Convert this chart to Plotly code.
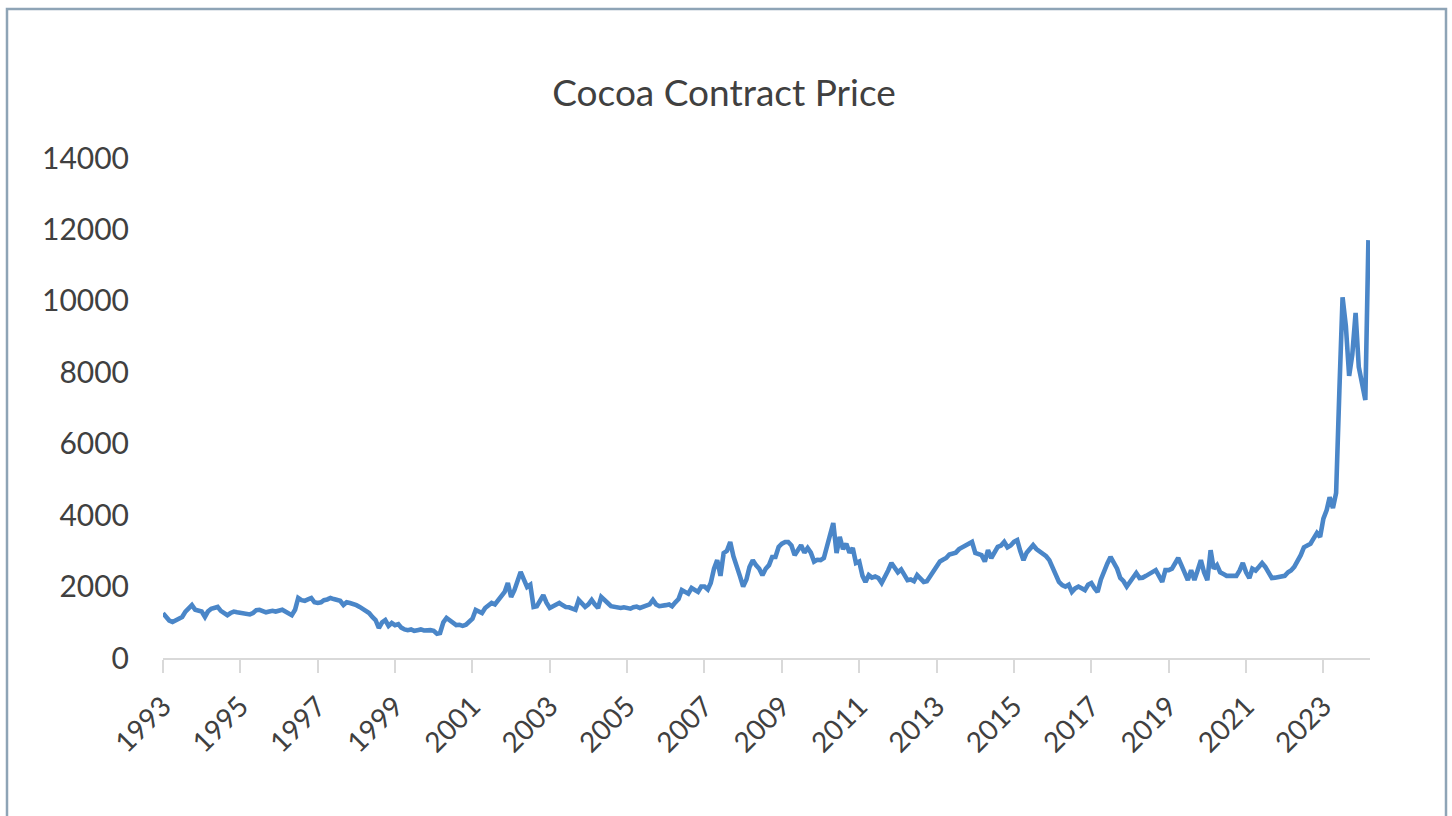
import pandas as pd
import plotly.graph_objects as go

# Monthly cocoa contract prices (USD/t), Jan 1993 onward
prices_1990s = [
    1250, 1150, 1050, 1010, 1060, 1120, 1150, 1300, 1400, 1480, 1350, 1330,  # 1993
    1300, 1150, 1300, 1380, 1400, 1430, 1320, 1250, 1200, 1260, 1300, 1280,  # 1994
    1260, 1270, 1230, 1220, 1260, 1340, 1350, 1320, 1280, 1300, 1320, 1300,  # 1995
    1330, 1350, 1300, 1250, 1200, 1350, 1680, 1620, 1600, 1640, 1680, 1560,  # 1996
    1540, 1560, 1620, 1640, 1680, 1650, 1640, 1600, 1484, 1560, 1540, 1520,  # 1997
    1480, 1430, 1380, 1290, 1260, 1150, 1064, 840, 1000, 1064, 900, 980,     # 1998
    920, 950, 850, 800, 780, 800, 760, 780, 800, 770, 790, 780,              # 1999
]
prices_2000s = [
    760, 680, 700, 1000, 1120, 1050, 980, 920, 930, 900, 930, 1000,          # 2000
    1100, 1344, 1300, 1260, 1400, 1480, 1540, 1500, 1624, 1700, 1850, 2100,  # 2001
    1710, 1900, 2150, 2410, 2200, 1990, 2050, 1430, 1450, 1600, 1760, 1550,  # 2002
    1400, 1450, 1480, 1540, 1480, 1430, 1420, 1400, 1350, 1624, 1500, 1430,  # 2003
    1500, 1624, 1500, 1400, 1710, 1600, 1540, 1450, 1430, 1420, 1400, 1420,  # 2004
    1400, 1380, 1420, 1440, 1400, 1430, 1460, 1500, 1624, 1500, 1450, 1480,  # 2005
    1480, 1500, 1450, 1560, 1650, 1904, 1850, 1800, 1960, 1900, 1850, 2000,  # 2006
    2000, 1920, 2100, 2500, 2740, 2300, 2940, 3000, 3250, 2850, 2600, 2300,  # 2007
    2000, 2200, 2550, 2740, 2600, 2500, 2320, 2500, 2600, 2830, 2830, 3110,  # 2008
    3200, 3250, 3250, 3150, 2880, 3000, 3160, 2950, 3080, 2950, 2700, 2750,  # 2009
]
prices_2010s = [
    2740, 2800, 3080, 3390, 3780, 2940, 3390, 3050, 3200, 2950, 3080, 2660,  # 2010
    2700, 2300, 2130, 2320, 2250, 2280, 2240, 2100, 2250, 2450, 2660, 2500,  # 2011
    2400, 2480, 2300, 2180, 2200, 2150, 2320, 2200, 2130, 2150, 2300, 2460,  # 2012
    2600, 2700, 2750, 2800, 2900, 2940, 2950, 3050, 3110, 3150, 3220, 3250,  # 2013
    2940, 2900, 2880, 2700, 3020, 2800, 2950, 3110, 3150, 3250, 3100, 3150,  # 2014
    3250, 3300, 3000, 2740, 2950, 3050, 3160, 3050, 2980, 2950, 2850, 2740,  # 2015
    2550, 2300, 2130, 2040, 2000, 2050, 1850, 1950, 2000, 1950, 1900, 2050,  # 2016
    2100, 1950, 1850, 2200, 2450, 2650, 2830, 2650, 2500, 2240, 2150, 2000,  # 2017
    2150, 2240, 2380, 2240, 2250, 2300, 2350, 2400, 2460, 2300, 2130, 2460,  # 2018
    2460, 2500, 2650, 2800, 2600, 2400, 2180, 2460, 2180, 2450, 2740, 2400,  # 2019
]
prices_2020s = [
    2180, 3020, 2500, 2600, 2400, 2350, 2300, 2300, 2300, 2300, 2450, 2660,  # 2020
    2400, 2240, 2500, 2450, 2550, 2660, 2550, 2400, 2240, 2250, 2270, 2300,  # 2021
    2300, 2400, 2450, 2550, 2700, 2880, 3100, 3160, 3200, 3350, 3500, 3390,  # 2022
    3900, 4140, 4500, 4200, 4620, 7500, 10100, 9300, 7900, 8500, 9660, 8150,  # 2023
    7600, 7224, 11700,                                                       # 2024
]
prices = prices_1990s + prices_2000s + prices_2010s + prices_2020s
dates = pd.date_range("1993-01-01", periods=len(prices), freq="MS")

tick_years = ["1993", "1995", "1997", "1999", "2001", "2003", "2005", "2007",
              "2009", "2011", "2013", "2015", "2017", "2019", "2021", "2023"]
y_ticks = [0, 2000, 4000, 6000, 8000, 10000, 12000, 14000]
y_labels = ["0", "2000", "4000", "6000", "8000", "10000", "12000", "14000"]

W, H = 1452, 816
ml, mr, mt, mb = 163, 82, 158, 158
pw, ph = W - ml - mr, H - mt - mb

def px_x(px):
    return (px - ml) / pw

def px_y(py):
    return (H - mb - py) / ph

FONT = "Lato"
TXT = "#404040"

fig = go.Figure(go.Scatter(
    x=dates, y=prices, mode="lines",
    line=dict(color="#4A86C8", width=4.6),
    hoverinfo="x+y",
))

fig.update_layout(
    width=W, height=H,
    margin=dict(l=ml, r=mr, t=mt, b=mb),
    paper_bgcolor="white", plot_bgcolor="white",
    showlegend=False,
    font=dict(family=FONT, color=TXT, size=30),
    title=dict(text="Cocoa Contract Price", x=724 / W, xref="container", xanchor="center",
               y=1 - 93 / H, yref="container", yanchor="middle",
               font=dict(family=FONT, size=37, color=TXT)),
    xaxis=dict(
        type="date",
        range=["1993-01-01", "2024-03-16"],
        tickvals=[f"{y}-01-01" for y in tick_years],
        ticktext=tick_years,
        tickangle=-45,
        showgrid=False, zeroline=False,
        showline=True, linecolor="#D9D9D9", linewidth=1.5,
        ticks="outside", ticklen=13, tickcolor="#D9D9D9", tickwidth=1.5,
        ticklabelstandoff=6,
        tickfont=dict(family=FONT, size=28, color=TXT),
    ),
    yaxis=dict(
        range=[0, 14000],
        tickvals=y_ticks,
        ticktext=y_labels,
        showgrid=False, zeroline=False, showline=False,
        ticks="", ticklabelstandoff=33,
        tickfont=dict(family=FONT, size=30, color=TXT),
    ),
    shapes=[dict(type="rect", xref="paper", yref="paper",
                 x0=px_x(7), x1=px_x(1446), y0=px_y(830), y1=px_y(9),
                 line=dict(color="#8EA4B6", width=2.5), fillcolor="rgba(0,0,0,0)",
                 layer="above")],
)

fig.write_html("out.html")
